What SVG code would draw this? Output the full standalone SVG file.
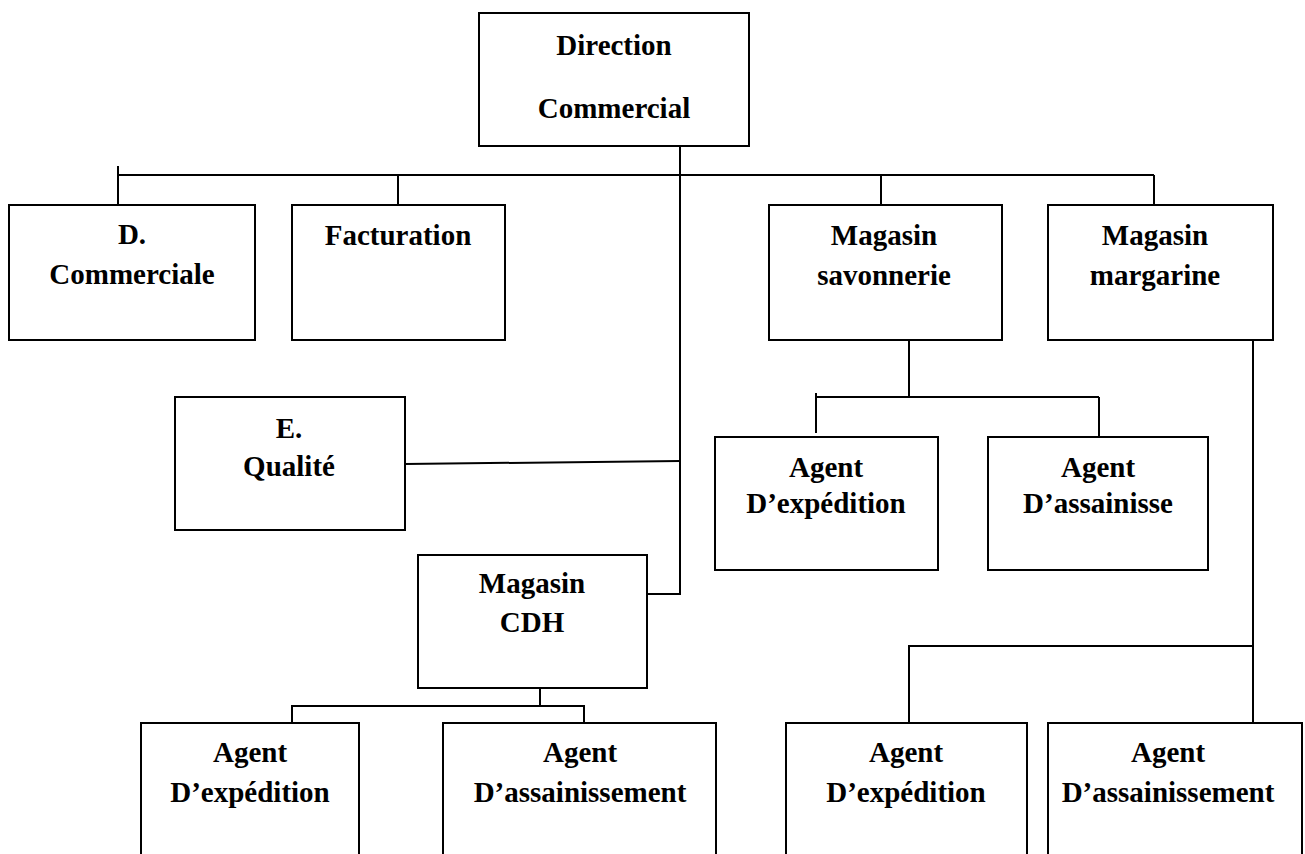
<svg xmlns="http://www.w3.org/2000/svg" width="1305" height="854" viewBox="0 0 1305 854">
<style>
.box{fill:#fff;stroke:#000;stroke-width:2}
.t{font-family:"Liberation Serif","Times New Roman",serif;font-weight:bold;font-size:29px;fill:#000;text-anchor:middle}
.c{fill:none;stroke:#000;stroke-width:2}
</style>
<rect width="1305" height="854" fill="#fff"/>
<g id="connectors">
<polyline class="c" points="680,146 680,594 647,594"/>
<line class="c" x1="118" y1="175" x2="1154" y2="175"/>
<line class="c" x1="118" y1="166" x2="118" y2="205"/>
<line class="c" x1="398" y1="175" x2="398" y2="213"/>
<line class="c" x1="881" y1="175" x2="881" y2="213"/>
<line class="c" x1="1154" y1="175" x2="1154" y2="213"/>
<line class="c" x1="405" y1="464" x2="680" y2="461"/>
<line class="c" x1="909" y1="340" x2="909" y2="397"/>
<line class="c" x1="816" y1="397" x2="1099" y2="397"/>
<line class="c" x1="816" y1="393" x2="816" y2="433"/>
<line class="c" x1="1099" y1="397" x2="1099" y2="437"/>
<line class="c" x1="540" y1="688" x2="540" y2="706"/>
<polyline class="c" points="292,723 292,706 584,706 584,723"/>
<line class="c" x1="1253" y1="340" x2="1253" y2="723"/>
<polyline class="c" points="909,723 909,646 1253,646"/>
</g>
<g id="n-direction"><rect class="box" x="479" y="13" width="270" height="133"/><text class="t" x="614" y="55">Direction</text><text class="t" x="614" y="118">Commercial</text></g>
<g id="n-dcommerciale"><rect class="box" x="9" y="205" width="246" height="135"/><text class="t" x="132" y="244">D.</text><text class="t" x="132" y="284">Commerciale</text></g>
<g id="n-facturation"><rect class="box" x="292" y="205" width="213" height="135"/><text class="t" x="398" y="245">Facturation</text></g>
<g id="n-savonnerie"><rect class="box" x="769" y="205" width="233" height="135"/><text class="t" x="884" y="245">Magasin</text><text class="t" x="884" y="285">savonnerie</text></g>
<g id="n-margarine"><rect class="box" x="1048" y="205" width="225" height="135"/><text class="t" x="1155" y="245">Magasin</text><text class="t" x="1155" y="285">margarine</text></g>
<g id="n-qualite"><rect class="box" x="175" y="397" width="230" height="133"/><text class="t" x="289" y="438">E.</text><text class="t" x="289" y="476">Qualité</text></g>
<g id="n-sav-exp"><rect class="box" x="715" y="437" width="223" height="133"/><text class="t" x="826" y="477">Agent</text><text class="t" x="826" y="513">D’expédition</text></g>
<g id="n-sav-ass"><rect class="box" x="988" y="437" width="220" height="133"/><text class="t" x="1098" y="477">Agent</text><text class="t" x="1098" y="513">D’assainisse</text></g>
<g id="n-cdh"><rect class="box" x="418" y="555" width="229" height="133"/><text class="t" x="532" y="593">Magasin</text><text class="t" x="532" y="632">CDH</text></g>
<g id="n-cdh-exp"><rect class="box" x="141" y="723" width="218" height="140"/><text class="t" x="250" y="762">Agent</text><text class="t" x="250" y="802">D’expédition</text></g>
<g id="n-cdh-ass"><rect class="box" x="443" y="723" width="273" height="140"/><text class="t" x="580" y="762">Agent</text><text class="t" x="580" y="802">D’assainissement</text></g>
<g id="n-marg-exp"><rect class="box" x="786" y="723" width="241" height="140"/><text class="t" x="906" y="762">Agent</text><text class="t" x="906" y="802">D’expédition</text></g>
<g id="n-marg-ass"><rect class="box" x="1048" y="723" width="254" height="140"/><text class="t" x="1168" y="762">Agent</text><text class="t" x="1168" y="802">D’assainissement</text></g>
</svg>
